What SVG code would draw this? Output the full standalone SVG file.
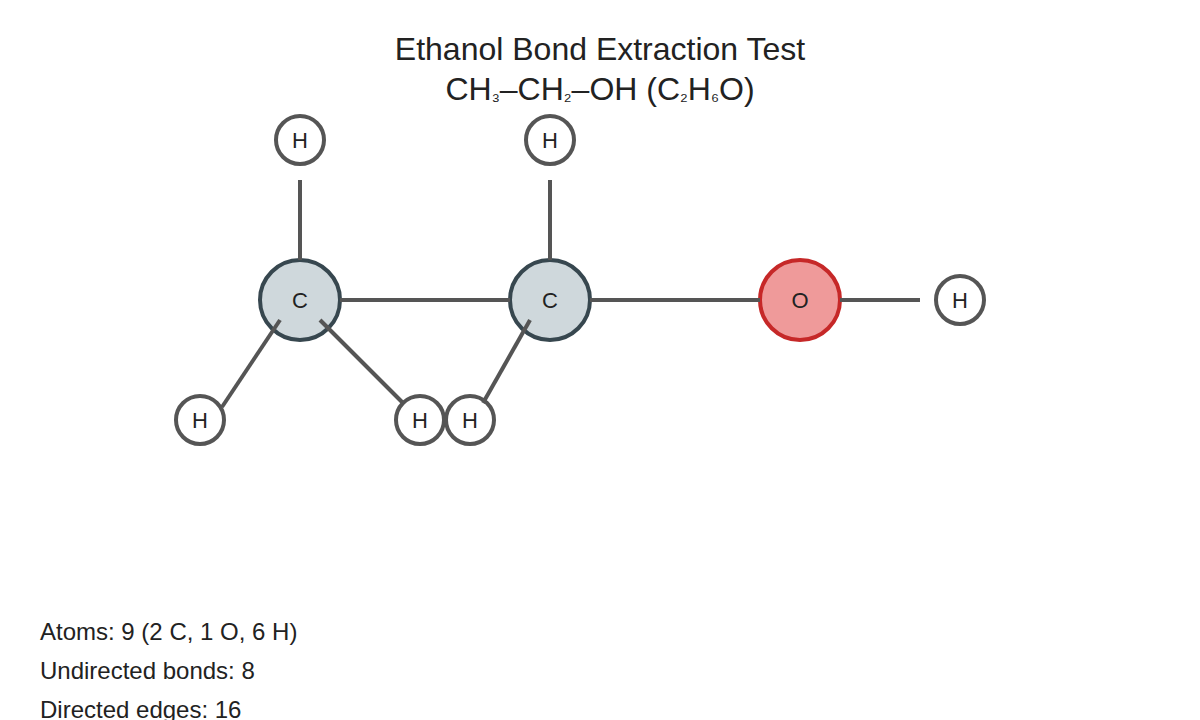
<svg xmlns="http://www.w3.org/2000/svg" width="1200" height="720" viewBox="0 0 1200 720">
<style>
text{font-family:"Liberation Sans",Arial,sans-serif;fill:#222}
.t{font-size:32px;text-anchor:middle}
.s{font-size:20px}
.l{font-size:22px;text-anchor:middle}
.i{font-size:24px}
.h{fill:#fff;stroke:#555;stroke-width:4}
.c{fill:#cfd8dc;stroke:#37474f;stroke-width:4}
.o{fill:#ef9a9a;stroke:#c62828;stroke-width:4}
.b{stroke:#555;stroke-width:4;fill:none}
</style>
<rect width="1200" height="720" fill="#fff"/>
<text class="t" x="600" y="60">Ethanol Bond Extraction Test</text>
<text class="t" x="600" y="100">CH<tspan class="s">₃</tspan>–CH<tspan class="s">₂</tspan>–OH (C<tspan class="s">₂</tspan>H<tspan class="s">₆</tspan>O)</text>
<g id="C1"><circle class="c" cx="300" cy="300" r="40"/><text class="l" x="300" y="308">C</text></g>
<g id="C2"><circle class="c" cx="550" cy="300" r="40"/><text class="l" x="550" y="308">C</text></g>
<g id="O"><circle class="o" cx="800" cy="300" r="40"/><text class="l" x="800" y="308">O</text></g>
<g id="H1"><circle class="h" cx="300" cy="140" r="24"/><text class="l" x="300" y="148">H</text></g>
<g id="H2"><circle class="h" cx="200" cy="420" r="24"/><text class="l" x="200" y="428">H</text></g>
<g id="H3"><circle class="h" cx="420" cy="420" r="24"/><text class="l" x="420" y="428">H</text></g>
<g id="H4"><circle class="h" cx="550" cy="140" r="24"/><text class="l" x="550" y="148">H</text></g>
<g id="H5"><circle class="h" cx="470" cy="420" r="24"/><text class="l" x="470" y="428">H</text></g>
<g id="H6"><circle class="h" cx="960" cy="300" r="24"/><text class="l" x="960" y="308">H</text></g>
<g id="bonds" class="b">
<line x1="300" y1="180" x2="300" y2="260"/>
<line x1="280" y1="320" x2="222" y2="407"/>
<line x1="320" y1="320" x2="403" y2="403"/>
<line x1="340" y1="300" x2="510" y2="300"/>
<line x1="550" y1="180" x2="550" y2="260"/>
<line x1="530" y1="320" x2="483" y2="403"/>
<line x1="590" y1="300" x2="760" y2="300"/>
<line x1="840" y1="300" x2="920" y2="300"/>
</g>
<text class="i" x="40" y="640">Atoms: 9 (2 C, 1 O, 6 H)</text>
<text class="i" x="40" y="679">Undirected bonds: 8</text>
<text class="i" x="40" y="718">Directed edges: 16</text>
</svg>
